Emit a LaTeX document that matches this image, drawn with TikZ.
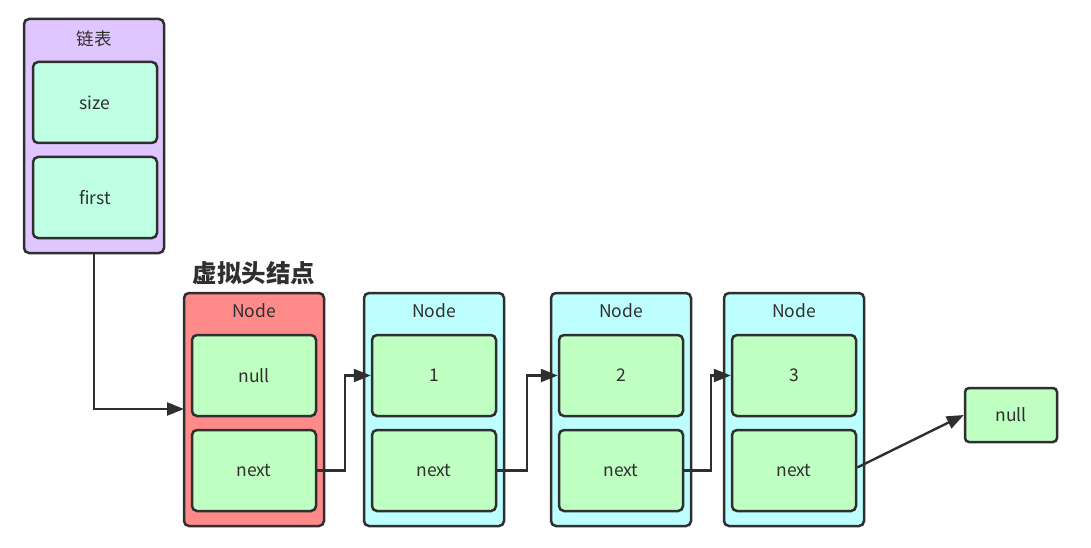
\documentclass[tikz,border=0pt]{standalone}
\usepackage{fontspec}
\setmainfont{Noto Sans CJK SC}
\usetikzlibrary{arrows.meta}
\definecolor{edge}{HTML}{2F2F2F}
\definecolor{txt}{HTML}{2F2F2F}
\definecolor{lav}{HTML}{E0C6FF}
\definecolor{mint}{HTML}{BFFFE4}
\definecolor{redf}{HTML}{FF8A8A}
\definecolor{cyanf}{HTML}{BDFFFF}
\definecolor{greenf}{HTML}{C0FFC2}
\tikzset{
  box/.style={draw=edge, line width=2.5pt, rounded corners=5pt, text=txt, font=\fontsize{17.5}{20}\selectfont},
  lbl/.style={text=txt, font=\fontsize{17.5}{20}\selectfont},
  conn/.style={draw=edge, line width=2.4pt, -{Triangle[length=17pt,width=13pt]}},
}
\begin{document}
\begin{tikzpicture}[x=1pt,y=-1pt]
\useasboundingbox (0,0) rectangle (1091,548);
% linked list box
\path[box, fill=lav] (24,19) rectangle (164,253);
\node[lbl] (listlbl) at (94,39) {链表};
\node[box, fill=mint, minimum width=124pt, minimum height=81pt] (size) at (95,102.5) {size};
\node[box, fill=mint, minimum width=124pt, minimum height=81pt] (first) at (95,197.5) {first};
\coordinate (listbot) at (94,253);
% title
\node[text=txt, font=\fontsize{24.5}{28}\selectfont\bfseries] (title) at (254,273) {虚拟头结点};
% nodes
\foreach \n/\x/\col/\v in {h/184/redf/null, a/364/cyanf/1, b/551/cyanf/2, c/724/cyanf/3}{
  \path[box, fill=\col] (\x,293) rectangle ({\x+140},526);
  \coordinate (\n-outw) at (\x,409);
  \node[lbl] (\n-lbl) at ({\x+70},311) {Node};
  \node[box, fill=greenf, minimum width=124pt, minimum height=81pt] (\n-val) at ({\x+70},375.5) {\v};
  \node[box, fill=greenf, minimum width=124pt, minimum height=81pt] (\n-next) at ({\x+70},470.5) {next};
}
\node[box, fill=greenf, minimum width=92pt, minimum height=54pt, rounded corners=4pt] (nullend) at (1011,415) {null};
% connectors
\draw[conn] (listbot) |- (h-outw);
\draw[conn] (h-next.east) -- ++(28,0) |- (a-val.west);
\draw[conn] (a-next.east) -- ++(30,0) |- (b-val.west);
\draw[conn] (b-next.east) -- ++(27,0) |- (c-val.west);
\draw[conn] ([yshift=3pt]c-next.east) -- (nullend.west);
\end{tikzpicture}
\end{document}
